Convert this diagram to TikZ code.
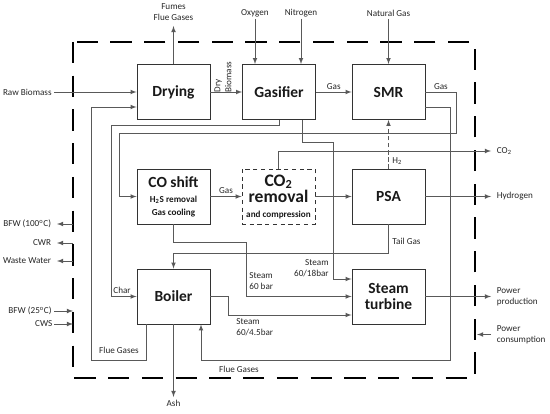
\documentclass[tikz,border=0pt]{standalone}
\usepackage{fontspec}
\setmainfont{Carlito}
\usetikzlibrary{positioning}

\tikzset{
  unitbox/.style={draw=black!80, line width=0.6pt, minimum width=1.825cm, minimum height=1.375cm,
    inner sep=0pt, align=center, text=black!90, font=\bfseries\fontsize{11}{12}\selectfont},
  stream/.style={draw=black!65, line width=0.5pt, ->, >=latex},
  lbl/.style={font=\fontsize{6.5}{7.8}\selectfont, inner sep=1.5pt, text=black!85, align=center},
  termlbl/.style={lbl, inner sep=4pt},
  sysbound/.style={draw=black, line width=1.4pt, dash pattern=on 15pt off 9pt},
}

\begin{document}
\begin{tikzpicture}[x=0.025cm,y=-0.025cm]
\useasboundingbox (0,0) rectangle (550,413);
%system boundary
\draw[sysbound] (73,42) rectangle (475,378);

%units
\node[unitbox] (drying) at (173.5,92) {Drying};
\node[unitbox] (gasifier) at (279,92) {Gasifier};
\node[unitbox] (smr) at (388.5,92) {SMR};
\node[unitbox] (coshift) at (173.5,196.5) {CO shift\\[-1pt]{\fontsize{6.5}{7}\selectfont H\textsubscript{2}S removal}\\[-3pt]{\fontsize{6.5}{7}\selectfont Gas cooling}};
\node[unitbox, dash pattern=on 3pt off 2.5pt] (co2rem) at (278.5,196.5) {{\fontsize{12.5}{13}\selectfont CO\textsubscript{2}}\\{\fontsize{12.5}{13}\selectfont removal}\\[-2pt]{\fontsize{6.5}{7}\selectfont and compression}};
\node[unitbox] (psa) at (388.5,196.5) {PSA};
\node[unitbox] (boiler) at (173.5,296.5) {Boiler};
\node[unitbox] (turbine) at (388.5,296.5) {Steam\\turbine};

%feeds at the top
\node[termlbl, anchor=south] (fumes) at (173.5,26) {Fumes\\Flue Gases};
\draw[stream] (drying) -- (fumes);
\node[lbl, anchor=south] (oxygen) at (255,19) {Oxygen};
\draw[stream] (oxygen) -- (gasifier.north -| oxygen);
\node[lbl, anchor=south] (nitrogen) at (301,19) {Nitrogen};
\draw[stream] (nitrogen) -- (gasifier.north -| nitrogen);
\node[lbl, anchor=south] (natgas) at (388.5,19) {Natural Gas};
\draw[stream] (natgas) -- (smr);

%biomass line
\node[lbl, anchor=east] (rawbio) at (54,92) {Raw Biomass};
\draw[stream] (rawbio) -- (drying);
\node[lbl, rotate=90, align=left] (drybio) at (223,77) {Dry\\Biomass};
\draw[stream] (drying) -- (gasifier);
\draw[stream] (gasifier) -- node[lbl, above] (gasa) {Gas} (smr);

%syngas to CO shift
\draw[stream] (smr.east) -- node[lbl, above] (gasb) {Gas} ++(31,0) |- (119,133) |- (coshift.west);
%flue gases SMR to boiler
\draw[stream] (smr.east) ++(0,15) -| (450,360) -| (boiler.south -| 201,0);
\node[lbl] (flueb) at (239,369) {Flue Gases};
%char
\draw[stream] (gasifier.south) |- (111,125) |- (boiler.west);
\node[lbl] (char) at (122,290) {Char};
%steam from gasifier
\draw[stream] (gasifier.south -| 302,0) |- (333,142) |- (turbine.west |- 0,279);
\node[lbl, anchor=east, align=right] (steamc) at (331,268) {Steam\\60/18bar};

%H2 recycle
\draw[stream, dash pattern=on 3pt off 2pt] (psa) -- (smr);
\node[lbl, anchor=west] (htwo) at (390,161) {H\textsubscript{2}};
%CO2
\node[termlbl, anchor=west] (co2) at (491,151) {CO\textsubscript{2}};
\draw[stream] (co2rem.north) |- (co2.west);
%gas train
\draw[stream] (coshift) -- node[lbl, above] (gasc) {Gas} (co2rem);
\draw[stream] (co2rem) -- (psa);
\node[termlbl, anchor=west] (hydrogen) at (491,196.5) {Hydrogen};
\draw[stream] (psa) -- (hydrogen);

%tail gas
\draw[stream] (psa.south) -- ++(0,29) -| (boiler.north);
\node[lbl, anchor=west] (tailgas) at (390,241) {Tail Gas};
%steam from CO shift
\draw[stream] (coshift.south) |- (246,242) |- (turbine.west);
\node[lbl, anchor=west, align=left] (steama) at (247,281.5) {Steam\\60 bar};
%steam from boiler
\draw[stream] (boiler.east) -| (228,315) -- (turbine.west |- 0,315);
\node[lbl, anchor=west, align=left] (steamb) at (234,327.5) {Steam\\60/4.5bar};
%flue gases boiler to drying
\draw[stream] (boiler.south west) ++(10,0) -- ++(0,36) -| (91,107) -- (drying.west |- 0,107);
\node[lbl] (fluea) at (119,350) {Flue Gases};
%ash
\node[lbl, anchor=north, inner sep=2pt] (ash) at (173.5,397) {Ash};
\draw[stream] (boiler) -- (ash);

%power
\node[termlbl, anchor=west, align=left] (powout) at (491,296.5) {Power\\production};
\draw[stream] (turbine) -- (powout);
\node[termlbl, anchor=west, align=left] (powin) at (491,334.5) {Power\\consumption};
\coordinate (powend) at (477,334.5);
\draw[stream] (powin) -- (powend);

%water streams
\coordinate (bfwhot) at (73,224);
\coordinate (cwrout) at (73,243);
\coordinate (wwout) at (73,261);
\coordinate (bfwcold) at (73,311);
\coordinate (cwsin) at (73,324);
\node[termlbl, anchor=east] (bfwa) at (57,224) {BFW (100\textsuperscript{o}C)};
\node[termlbl, anchor=east] (cwr) at (57,243) {CWR};
\node[termlbl, anchor=east] (waste) at (57,261) {Waste Water};
\node[lbl, anchor=east] (bfwb) at (54,311) {BFW (25\textsuperscript{o}C)};
\node[lbl, anchor=east, inner sep=1pt] (cws) at (54,324) {CWS};
\draw[stream] (bfwhot) -- (bfwa);
\draw[stream] (cwrout) -- (cwr);
\draw[stream] (wwout) -- (waste);
\draw[stream] (bfwb) -- (bfwcold);
\draw[stream] (cws) -- (cwsin);

\end{tikzpicture}
\end{document}
